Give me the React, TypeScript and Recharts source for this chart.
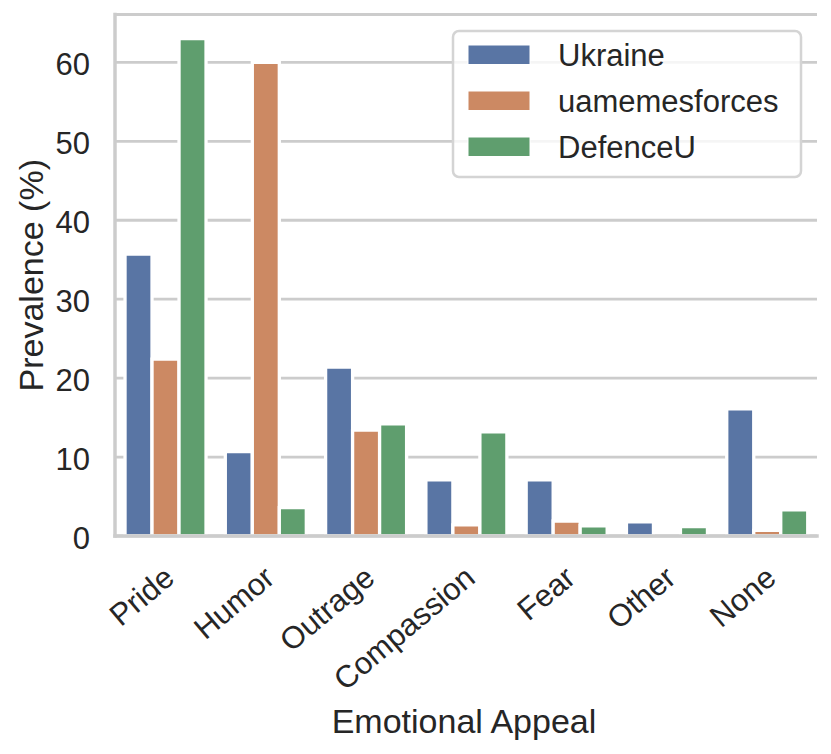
import React from 'react';
import { BarChart, Bar, XAxis, YAxis, CartesianGrid, Legend } from 'recharts';

const categories = ['Pride', 'Humor', 'Outrage', 'Compassion', 'Fear', 'Other', 'None'];
const ukraine = [35.7, 10.7, 21.4, 7.1, 7.1, 1.8, 16.1];
const uamemesforces = [22.4, 60.0, 13.4, 1.4, 1.9, 0, 0.7];
const defenceU = [63.0, 3.6, 14.2, 13.2, 1.3, 1.2, 3.3];
const yTicks = [0, 10, 20, 30, 40, 50, 60];
const seriesNames = ['Ukraine', 'uamemesforces', 'DefenceU'];
const seriesColors = ['#5975a4', '#cc8963', '#5f9e6e'];
const seriesValues = [ukraine, uamemesforces, defenceU];

const data = categories.map((c, i) => {
  const row: Record<string, string | number> = { category: c };
  seriesNames.forEach((s, k) => {
    row[s] = seriesValues[k][i];
  });
  return row;
});

const FONT = '"Liberation Sans", Arial, Helvetica, sans-serif';
const TEXT = '#262626';
const FRAME = '#cccccc';

const XTick = (props: any) => {
  const { x, y, payload } = props;
  return (
    <text
      transform={`translate(${x + 11},${y + 45}) rotate(-40)`}
      textAnchor="end"
      fontSize={31}
      fill={TEXT}
      fontFamily={FONT}
    >
      {payload.value}
    </text>
  );
};

const YTick = (props: any) => {
  const { x, y, payload } = props;
  return (
    <text x={x - 25} y={y + 12.8} textAnchor="end" fontSize={31} fill={TEXT} fontFamily={FONT}>
      {payload.value}
    </text>
  );
};

const XLabel = (props: any) => {
  const vb = props.viewBox || { x: 115, y: 536, width: 702, height: 218 };
  return (
    <text x={vb.x + vb.width / 2 - 2} y={vb.y + 197} textAnchor="middle" fontSize={34} fill={TEXT} fontFamily={FONT}>
      Emotional Appeal
    </text>
  );
};

const YLabel = (props: any) => {
  const vb = props.viewBox || { x: 0, y: 14.5, width: 115, height: 521.5 };
  return (
    <text
      transform={`translate(${vb.x + 42.7},${vb.y + vb.height / 2}) rotate(-90)`}
      textAnchor="middle"
      fontSize={34}
      fill={TEXT}
      fontFamily={FONT}
    >
      Prevalence (%)
    </text>
  );
};

const LegendBox = () => (
  <svg width={350} height={148} style={{ display: 'block', overflow: 'visible' }}>
    <rect x={1} y={1} width={348} height={146} rx={6} ry={6} fill="rgba(255,255,255,0.8)" stroke="#d4d4d4" strokeWidth={2.5} />
    {seriesNames.map((name, i) => (
      <g key={name}>
        <rect x={16} y={15 + i * 46} width={62} height={19.5} fill={seriesColors[i]} stroke="#ffffff" strokeWidth={1} />
        <text x={106} y={36 + i * 46} fontSize={31} fill={TEXT} fontFamily={FONT}>
          {name}
        </text>
      </g>
    ))}
  </svg>
);

export default function App() {
  return (
    <div style={{ position: 'absolute', left: 0, top: 0, width: 831, height: 754, background: '#ffffff' }}>
      <BarChart
        width={831}
        height={754}
        data={data}
        margin={{ top: 14.5, right: 14, left: 0, bottom: 0 }}
        barCategoryGap="10%"
        barGap={0}
      >
        <CartesianGrid vertical={false} stroke={FRAME} strokeWidth={2.8} />
        <XAxis
          dataKey="category"
          height={218}
          tickLine={false}
          tickSize={0}
          tickMargin={0}
          interval={0}
          tick={<XTick />}
          axisLine={{ stroke: FRAME, strokeWidth: 3.5, strokeLinecap: 'square' }}
          label={<XLabel />}
        />
        <XAxis
          xAxisId="top"
          dataKey="category"
          orientation="top"
          height={0}
          tick={false}
          tickLine={false}
          axisLine={{ stroke: FRAME, strokeWidth: 3.5, strokeLinecap: 'square' }}
        />
        <YAxis
          width={115}
          domain={[0, 66.06]}
          ticks={yTicks}
          tickLine={false}
          tickSize={0}
          tickMargin={0}
          interval={0}
          tick={<YTick />}
          axisLine={{ stroke: FRAME, strokeWidth: 3.5, strokeLinecap: 'square' }}
          label={<YLabel />}
          allowDataOverflow
        />
        <YAxis
          yAxisId="right"
          orientation="right"
          width={0}
          domain={[0, 66.06]}
          tick={false}
          tickLine={false}
          axisLine={{ stroke: FRAME, strokeWidth: 3.5, strokeLinecap: 'square' }}
        />
        <Legend
          layout="horizontal"
          verticalAlign="middle"
          align="center"
          content={<LegendBox />}
          wrapperStyle={{ position: 'absolute', left: 452, top: 30, width: 350, height: 148 }}
        />
        {seriesNames.map((name, i) => (
          <Bar
            key={name}
            dataKey={name}
            fill={seriesColors[i]}
            stroke="#ffffff"
            strokeWidth={3.3}
            isAnimationActive={false}
          />
        ))}
      </BarChart>
    </div>
  );
}
